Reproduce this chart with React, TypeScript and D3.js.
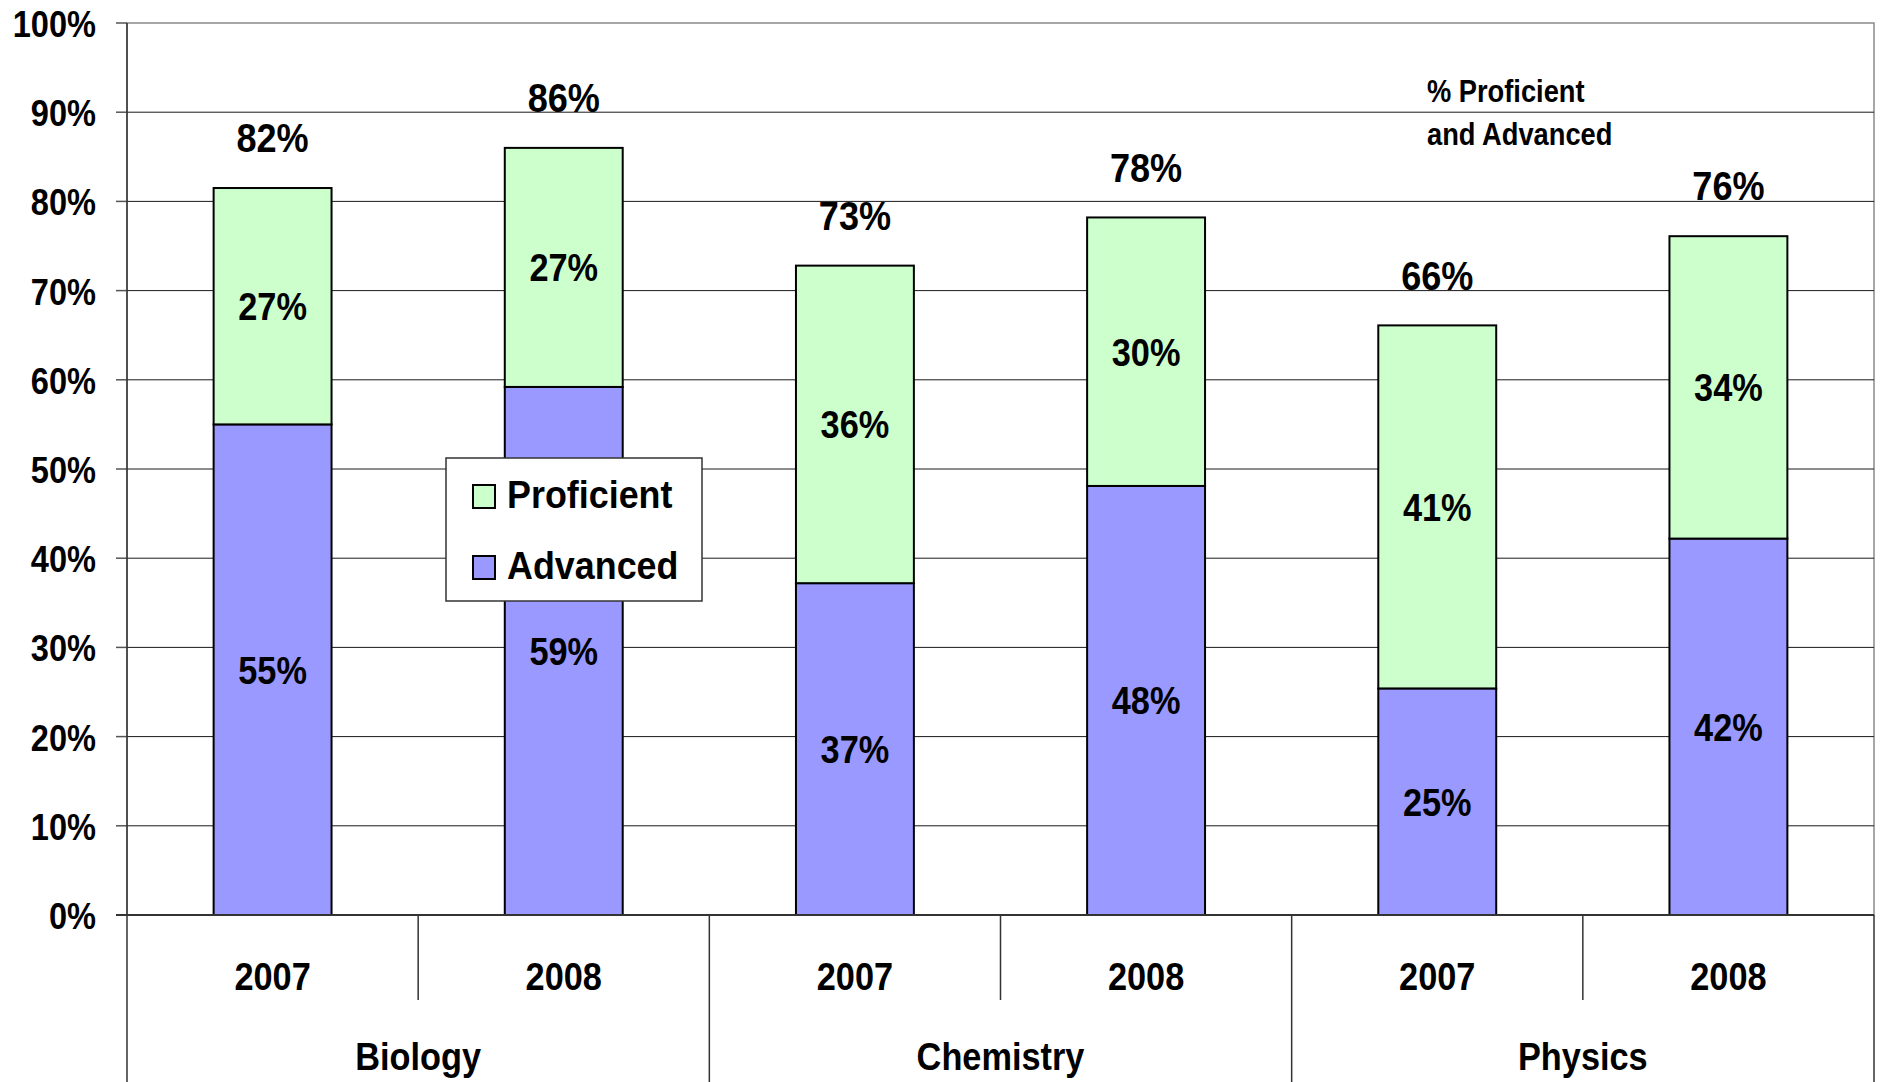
import React, { useRef, useEffect } from 'react'
import * as d3 from 'd3'

const subjects = ['Biology', 'Chemistry', 'Physics']
const years = ['2007', '2008']
const advanced = [55.0, 59.2, 37.2, 48.1, 25.4, 42.2]
const proficient = [26.5, 26.8, 35.6, 30.1, 40.7, 33.9]
const yTicks = [0, 10, 20, 30, 40, 50, 60, 70, 80, 90, 100]
const seriesNames = ['Proficient', 'Advanced']
const noteLines = ['% Proficient', 'and Advanced']

const W = 1886
const H = 1082
const FONT = '"Liberation Sans", Arial, sans-serif'
const SQUEEZE = 0.88
const PROF_COLOR = '#ccffcc'
const ADV_COLOR = '#9999ff'

const App: React.FC = () => {
  const svgRef = useRef<SVGSVGElement>(null)

  useEffect(() => {
    const svg = d3.select(svgRef.current!)
    svg.selectAll('*').remove()

    const left = 127
    const right = 1874
    const top = 23
    const bottom = 915

    const cats = d3.range(subjects.length * years.length)
    const x = d3
      .scaleBand<number>()
      .domain(cats)
      .range([left, right])
      .paddingInner(0.595)
      .paddingOuter(0.2975)
    const slot = d3.scaleBand<number>().domain(cats).range([left, right])
    const y = d3.scaleLinear().domain([0, 100]).range([bottom, top])

    // squeezed bold text helper
    const label = (
      g: d3.Selection<any, unknown, null, undefined>,
      tx: number,
      ty: number,
      text: string,
      size: number,
      anchor = 'middle',
      squeeze = SQUEEZE
    ) =>
      g
        .append('text')
        .attr('transform', `translate(${tx},${ty}) scale(${squeeze},1)`)
        .attr('text-anchor', anchor)
        .style('font-family', FONT)
        .style('font-weight', 'bold')
        .style('font-size', `${size}px`)
        .attr('fill', '#000')
        .text(text)

    svg.append('rect').attr('width', W).attr('height', H).attr('fill', '#fff')

    // plot border
    svg
      .append('rect')
      .attr('x', left)
      .attr('y', top)
      .attr('width', right - left)
      .attr('height', bottom - top)
      .attr('fill', 'none')
      .attr('stroke', '#8a8a8a')
      .attr('stroke-width', 1.5)

    // gridlines + ticks
    yTicks.forEach((t) => {
      if (t > 0 && t < 100) {
        svg
          .append('line')
          .attr('x1', left)
          .attr('x2', right)
          .attr('y1', y(t))
          .attr('y2', y(t))
          .attr('stroke', '#1a1a1a')
          .attr('stroke-width', 1)
      }
      svg
        .append('line')
        .attr('x1', left - 11)
        .attr('x2', left)
        .attr('y1', y(t))
        .attr('y2', y(t))
        .attr('stroke', '#555')
        .attr('stroke-width', 1.5)
      label(svg, 96, y(t) + 14, `${t}%`, 37, 'end')
    })

    // left axis, extended to the bottom
    svg
      .append('line')
      .attr('x1', left)
      .attr('x2', left)
      .attr('y1', top)
      .attr('y2', H)
      .attr('stroke', '#333')
      .attr('stroke-width', 1.5)

    // bars
    const g = svg.append('g')
    cats.forEach((i) => {
      const bx = x(i)!
      const bw = x.bandwidth()
      const a = advanced[i]
      const p = proficient[i]
      g.append('rect')
        .attr('x', bx)
        .attr('y', y(a))
        .attr('width', bw)
        .attr('height', y(0) - y(a))
        .attr('fill', ADV_COLOR)
        .attr('stroke', '#000')
        .attr('stroke-width', 2)
      g.append('rect')
        .attr('x', bx)
        .attr('y', y(a + p))
        .attr('width', bw)
        .attr('height', y(a) - y(a + p))
        .attr('fill', PROF_COLOR)
        .attr('stroke', '#000')
        .attr('stroke-width', 2)

      const cx = bx + bw / 2
      label(g, cx, y(a / 2) + 14, `${Math.round(a)}%`, 39)
      label(g, cx, y(a + p / 2) + 14, `${Math.round(p)}%`, 39)
      label(g, cx, y(a + p + 5.7) + 15, `${Math.round(a + p)}%`, 41)
    })

    // zero line
    svg
      .append('line')
      .attr('x1', left - 11)
      .attr('x2', right)
      .attr('y1', bottom)
      .attr('y2', bottom)
      .attr('stroke', '#333')
      .attr('stroke-width', 2)

    // category axis: year dividers and subject dividers
    cats.forEach((i) => {
      const sx = slot(i)! + slot.bandwidth()
      const isGroupEnd = (i + 1) % years.length === 0
      svg
        .append('line')
        .attr('x1', sx)
        .attr('x2', sx)
        .attr('y1', bottom)
        .attr('y2', isGroupEnd ? H : 1000)
        .attr('stroke', '#333')
        .attr('stroke-width', 1.5)
      label(svg, slot(i)! + slot.bandwidth() / 2, 990, years[i % years.length], 39)
    })
    subjects.forEach((s, k) => {
      const cx = slot(k * years.length)! + slot.bandwidth()
      label(svg, cx, 1070, s, 39)
    })

    // legend
    const lg = svg.append('g')
    lg.append('rect')
      .attr('x', 446)
      .attr('y', 458)
      .attr('width', 256)
      .attr('height', 143)
      .attr('fill', '#fff')
      .attr('stroke', '#333')
      .attr('stroke-width', 1.5)
    seriesNames.forEach((name, k) => {
      const base = 508 + k * 71
      lg.append('rect')
        .attr('x', 473)
        .attr('y', base - 23)
        .attr('width', 22)
        .attr('height', 23)
        .attr('fill', k === 0 ? PROF_COLOR : ADV_COLOR)
        .attr('stroke', '#000')
        .attr('stroke-width', 2)
      label(lg, 507, base, name, 39, 'start', 0.92)
    })

    // note
    noteLines.forEach((line, k) => {
      label(svg, 1427, 102 + k * 43, line, 31, 'start')
    })
  }, [])

  return (
    <svg
      ref={svgRef}
      width={W}
      height={H}
      style={{ position: 'absolute', left: 0, top: 0 }}
    />
  )
}

export default App
